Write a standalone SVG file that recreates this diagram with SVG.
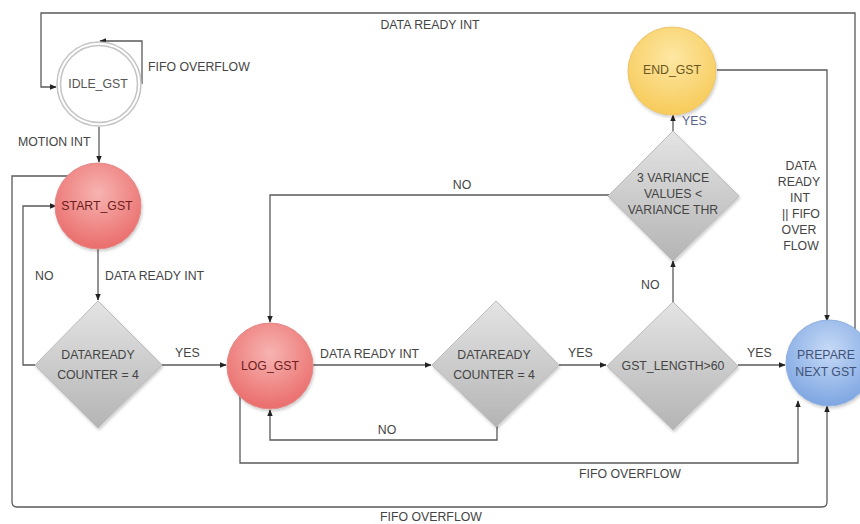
<svg xmlns="http://www.w3.org/2000/svg" width="860" height="524" viewBox="0 0 860 524">
  <defs>
    <style>
      .lbl { font-family: "Liberation Sans", Arial, sans-serif; font-size: 12.3px; fill: #444; }
      .ntx { font-family: "Liberation Sans", Arial, sans-serif; font-size: 12.3px; text-anchor: middle; }
      .edge { fill: none; stroke: #5a5a5a; stroke-width: 1.3; marker-end: url(#arr); }
      .dia { fill: url(#gGray); stroke: #bbb; stroke-width: 1; filter: url(#sh); }
    </style>
    <marker id="arr" viewBox="0 0 10 10" refX="9" refY="5" markerWidth="7" markerHeight="7" orient="auto" markerUnits="userSpaceOnUse">
      <path d="M0,1 L10,5 L0,9 Z" fill="#222"/>
    </marker>
    <radialGradient id="gRed" cx="0.5" cy="0.35" r="0.65">
      <stop offset="0" stop-color="#f7b4b2"/>
      <stop offset="1" stop-color="#ea6d6b"/>
    </radialGradient>
    <radialGradient id="gYel" cx="0.5" cy="0.35" r="0.65">
      <stop offset="0" stop-color="#fde7a4"/>
      <stop offset="1" stop-color="#f7cb5a"/>
    </radialGradient>
    <radialGradient id="gBlue" cx="0.5" cy="0.35" r="0.65">
      <stop offset="0" stop-color="#c6daf6"/>
      <stop offset="1" stop-color="#7ea6e2"/>
    </radialGradient>
    <linearGradient id="gGray" x1="0" y1="0" x2="0" y2="1">
      <stop offset="0" stop-color="#e4e4e4"/>
      <stop offset="1" stop-color="#b4b4b4"/>
    </linearGradient>
    <filter id="sh" x="-20%" y="-20%" width="140%" height="140%">
      <feDropShadow dx="1" dy="2" stdDeviation="1.5" flood-color="#000" flood-opacity="0.2"/>
    </filter>
  </defs>

  <!-- connectors -->
  <g id="connectors">
    <!-- PREPARE NEXT GST back to IDLE_GST over the top -->
    <path class="edge" d="M855,334 L855,13 L41,13 L41,87 L56,87"/>
    <text class="lbl" x="430" y="29" text-anchor="middle">DATA READY INT</text>
    <!-- IDLE self loop -->
    <path class="edge" d="M142,84 L142,41 L100,41"/>
    <text class="lbl" x="148" y="71">FIFO OVERFLOW</text>
    <!-- IDLE -> START -->
    <path class="edge" d="M99,127 L99,162"/>
    <text class="lbl" x="18" y="146">MOTION INT</text>
    <!-- START -> outer FIFO OVERFLOW loop -->
    <path class="edge" d="M68,176 L12,176 L12,502 Q12,507 17,507 L822,507 Q827,507 827,502 L827,406"/>
    <text class="lbl" x="431" y="521" text-anchor="middle">FIFO OVERFLOW</text>
    <!-- START -> counter decision -->
    <path class="edge" d="M98,249 L98,300"/>
    <text class="lbl" x="105" y="280">DATA READY INT</text>
    <!-- counter NO back to START -->
    <path class="edge" d="M35,365 L23,365 L23,206 L56,206"/>
    <text class="lbl" x="35" y="280">NO</text>
    <!-- counter YES -> LOG -->
    <path class="edge" d="M162,365 L226,365"/>
    <text class="lbl" x="175" y="357">YES</text>
    <!-- LOG -> counter 2 -->
    <path class="edge" d="M313,365 L431,365"/>
    <text class="lbl" x="320" y="358">DATA READY INT</text>
    <!-- counter 2 NO back to LOG -->
    <path class="edge" d="M497,426 L497,440 L270,440 L270,410"/>
    <text class="lbl" x="387" y="434" text-anchor="middle">NO</text>
    <!-- LOG -> PREPARE on FIFO OVERFLOW -->
    <path class="edge" d="M240,396 L240,463 L798,463 L798,401"/>
    <text class="lbl" x="630" y="478" text-anchor="middle">FIFO OVERFLOW</text>
    <!-- counter 2 YES -> length check -->
    <path class="edge" d="M559,365 L606,365"/>
    <text class="lbl" x="568" y="357">YES</text>
    <!-- length YES -> PREPARE -->
    <path class="edge" d="M738,365 L785,365"/>
    <text class="lbl" x="747" y="357">YES</text>
    <!-- length NO -> variance check -->
    <path class="edge" d="M673,302 L673,261"/>
    <text class="lbl" x="641" y="289">NO</text>
    <!-- variance NO -> LOG -->
    <path class="edge" d="M609,195 L270,195 L270,322"/>
    <text class="lbl" x="462" y="189" text-anchor="middle">NO</text>
    <!-- variance YES -> END -->
    <path class="edge" d="M673,131 L673,115"/>
    <text class="lbl" x="682" y="125" style="fill:#5a648f">YES</text>
    <!-- END -> PREPARE -->
    <path class="edge" d="M717,70 L827,70 L827,321"/>
    <g class="lbl" text-anchor="middle">
      <text x="801" y="170">DATA</text>
      <text x="799" y="186">READY</text>
      <text x="800" y="202">INT</text>
      <text x="801" y="218">|| FIFO</text>
      <text x="799" y="234">OVER</text>
      <text x="801" y="250">FLOW</text>
    </g>
  </g>

  <!-- states -->
  <g id="idle_gst">
    <circle cx="99" cy="84" r="42" fill="#fff" stroke="#c4c4c4" stroke-width="1.5"/>
    <circle cx="99" cy="84" r="38.5" fill="#fff" stroke="#c4c4c4" stroke-width="1.5"/>
    <text class="ntx" x="98" y="88" fill="#555">IDLE_GST</text>
  </g>
  <g id="start_gst">
    <circle cx="98" cy="206" r="43" fill="url(#gRed)" stroke="#e08a88" stroke-width="1" filter="url(#sh)"/>
    <text class="ntx" x="97" y="210" fill="#6e1c1c">START_GST</text>
  </g>
  <g id="log_gst">
    <circle cx="270" cy="366" r="43" fill="url(#gRed)" stroke="#e08a88" stroke-width="1" filter="url(#sh)"/>
    <text class="ntx" x="270" y="370" fill="#6e1c1c">LOG_GST</text>
  </g>
  <g id="end_gst">
    <circle cx="672" cy="71" r="44" fill="url(#gYel)" stroke="#ecc46a" stroke-width="1" filter="url(#sh)"/>
    <text class="ntx" x="672" y="74" fill="#6a5520">END_GST</text>
  </g>
  <g id="prepare_next_gst">
    <circle cx="829" cy="363" r="43" fill="url(#gBlue)" stroke="#8fb0e0" stroke-width="1" filter="url(#sh)"/>
    <text class="ntx" x="826" y="359" fill="#3f5278">PREPARE</text>
    <text class="ntx" x="826" y="376" fill="#3f5278">NEXT GST</text>
  </g>

  <!-- decisions -->
  <g id="counter_check_1">
    <polygon class="dia" points="98,301 162,365 98,428 35,365"/>
    <text class="ntx" x="98" y="359" fill="#444">DATAREADY</text>
    <text class="ntx" x="98" y="379" fill="#444">COUNTER = 4</text>
  </g>
  <g id="counter_check_2">
    <polygon class="dia" points="496,301 559,365 496,427 432,365"/>
    <text class="ntx" x="494" y="359" fill="#444">DATAREADY</text>
    <text class="ntx" x="494" y="379" fill="#444">COUNTER = 4</text>
  </g>
  <g id="length_check">
    <polygon class="dia" points="673,302 738,366 673,430 607,366"/>
    <text class="ntx" x="673" y="370" fill="#444">GST_LENGTH&gt;60</text>
  </g>
  <g id="variance_check">
    <polygon class="dia" points="673,131 739,196 673,261 608,196"/>
    <text class="ntx" x="673" y="182" fill="#444">3 VARIANCE</text>
    <text class="ntx" x="673" y="198" fill="#444">VALUES &lt;</text>
    <text class="ntx" x="673" y="214" fill="#444">VARIANCE THR</text>
  </g>
</svg>
